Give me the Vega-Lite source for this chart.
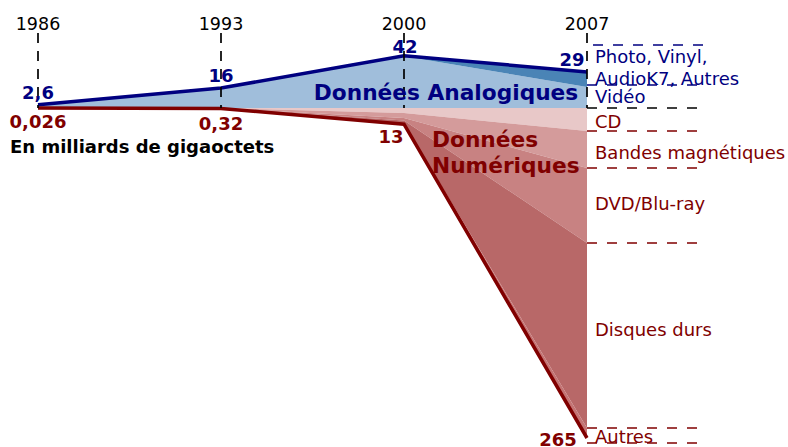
{
  "$schema": "https://vega.github.io/schema/vega-lite/v6.json",
  "width": 788,
  "height": 447,
  "autosize": "none",
  "padding": 0,
  "background": "white",
  "config": {"view": {"stroke": null}, "axis": {"disable": true}, "text": {"font": "DejaVu Sans"}},
  "datasets": {
    "areas": [
      {"year": 1986, "cat": "Vidéo", "v": 2.6, "ord": 1},
      {"year": 1993, "cat": "Vidéo", "v": 16, "ord": 1},
      {"year": 2000, "cat": "Vidéo", "v": 41.5, "ord": 1},
      {"year": 2007, "cat": "Vidéo", "v": 16.9, "ord": 1},
      {"year": 1986, "cat": "AudioK7", "v": 0, "ord": 2},
      {"year": 1993, "cat": "AudioK7", "v": 0, "ord": 2},
      {"year": 2000, "cat": "AudioK7", "v": 0.3, "ord": 2},
      {"year": 2007, "cat": "AudioK7", "v": 11.6, "ord": 2},
      {"year": 1986, "cat": "Photo", "v": 0, "ord": 3},
      {"year": 1993, "cat": "Photo", "v": 0, "ord": 3},
      {"year": 2000, "cat": "Photo", "v": 0.2, "ord": 3},
      {"year": 2007, "cat": "Photo", "v": 0.5, "ord": 3},
      {"year": 1986, "cat": "CD", "v": -0.01, "ord": 4},
      {"year": 1993, "cat": "CD", "v": -0.15, "ord": 4},
      {"year": 2000, "cat": "CD", "v": -4, "ord": 4},
      {"year": 2007, "cat": "CD", "v": -18.5, "ord": 4},
      {"year": 1986, "cat": "Bandes", "v": -0.01, "ord": 5},
      {"year": 1993, "cat": "Bandes", "v": -0.1, "ord": 5},
      {"year": 2000, "cat": "Bandes", "v": -4, "ord": 5},
      {"year": 2007, "cat": "Bandes", "v": -29.7, "ord": 5},
      {"year": 1986, "cat": "DVD", "v": -0.0001, "ord": 6},
      {"year": 1993, "cat": "DVD", "v": -0.0001, "ord": 6},
      {"year": 2000, "cat": "DVD", "v": -2, "ord": 6},
      {"year": 2007, "cat": "DVD", "v": -60.2, "ord": 6},
      {"year": 1986, "cat": "HD", "v": -0.006, "ord": 7},
      {"year": 1993, "cat": "HD", "v": -0.07, "ord": 7},
      {"year": 2000, "cat": "HD", "v": -2.5, "ord": 7},
      {"year": 2007, "cat": "HD", "v": -148.6, "ord": 7},
      {"year": 1986, "cat": "Autres", "v": -0.0001, "ord": 8},
      {"year": 1993, "cat": "Autres", "v": -0.0001, "ord": 8},
      {"year": 2000, "cat": "Autres", "v": -0.5, "ord": 8},
      {"year": 2007, "cat": "Autres", "v": -8, "ord": 8}
    ],
    "lines": [
      {"year": 1986, "series": "A", "v": 2.6},
      {"year": 1993, "series": "A", "v": 16},
      {"year": 2000, "series": "A", "v": 42},
      {"year": 2007, "series": "A", "v": 29},
      {"year": 1986, "series": "D", "v": -0.026},
      {"year": 1993, "series": "D", "v": -0.32},
      {"year": 2000, "series": "D", "v": -13},
      {"year": 2007, "series": "D", "v": -265}
    ],
    "vrules": [
      {"year": 1986, "v1": 60.2, "v2": 0},
      {"year": 1993, "v1": 60.2, "v2": 0},
      {"year": 2000, "v1": 60.2, "v2": 0},
      {"year": 2007, "v1": 60.2, "v2": 0}
    ],
    "hrules": [
      {"x1": 2007.23, "x2": 2011.55, "v": 50.6, "grp": "A"},
      {"x1": 2007.0, "x2": 2011.5, "v": 18.5, "grp": "A"},
      {"x1": 2007.0, "x2": 2011.5, "v": 0, "grp": "K"},
      {"x1": 2007.0, "x2": 2011.5, "v": -18.5, "grp": "D"},
      {"x1": 2007.0, "x2": 2011.5, "v": -48.2, "grp": "D"},
      {"x1": 2007.0, "x2": 2011.5, "v": -108.4, "grp": "D"},
      {"x1": 2007.0, "x2": 2011.5, "v": -257, "grp": "D"},
      {"x1": 2007.0, "x2": 2011.5, "v": -269, "grp": "D"}
    ],
    "labels": [
      {"kind": "year", "year": 1986, "v": 66.8, "text": "1986"},
      {"kind": "year", "year": 1993, "v": 66.8, "text": "1993"},
      {"kind": "year", "year": 2000, "v": 66.8, "text": "2000"},
      {"kind": "year", "year": 2007, "v": 66.8, "text": "2007"},
      {"kind": "numA", "year": 1986, "v": 11.5, "text": "2,6"},
      {"kind": "numA", "year": 1993, "v": 24.9, "text": "16"},
      {"kind": "numA", "year": 2000.04, "v": 48.2, "text": "42"},
      {"kind": "numA", "year": 2006.43, "v": 37.75, "text": "29"},
      {"kind": "numD", "year": 1986, "v": -12.05, "text": "0,026"},
      {"kind": "numD", "year": 1993, "v": -13.3, "text": "0,32"},
      {"kind": "numD", "year": 1999.5, "v": -24.1, "text": "13"},
      {"kind": "numD", "year": 2005.89, "v": -267.1, "text": "265"},
      {"kind": "unit", "year": 1984.929, "v": -32.1, "text": "En milliards de gigaoctets"},
      {"kind": "titleA", "year": 2001.607, "v": 12.4, "text": "Données Analogiques"},
      {"kind": "titleD", "year": 2001.071, "v": -25.9, "text": "Données"},
      {"kind": "titleD", "year": 2001.071, "v": -46.4, "text": "Numériques"},
      {"kind": "serA", "year": 2007.306, "v": 39.8, "text": "Photo, Vinyl,"},
      {"kind": "serA", "year": 2007.306, "v": 22.5, "text": "AudioK7, Autres"},
      {"kind": "serA", "year": 2007.306, "v": 8.0, "text": "Vidéo"},
      {"kind": "serD", "year": 2007.306, "v": -11.7, "text": "CD"},
      {"kind": "serD", "year": 2007.306, "v": -37.3, "text": "Bandes magnétiques"},
      {"kind": "serD", "year": 2007.306, "v": -77.9, "text": "DVD/Blu-ray"},
      {"kind": "serD", "year": 2007.306, "v": -179.1, "text": "Disques durs"},
      {"kind": "serD", "year": 2007.306, "v": -264.7, "text": "Autres"}
    ]
  },
  "layer": [
    {
      "data": {"name": "areas"},
      "mark": {"type": "area", "interpolate": "linear"},
      "encoding": {
        "x": {"field": "year", "type": "quantitative", "scale": {"domain": [1986, 2007], "range": [38, 587], "zero": false, "nice": false}},
        "y": {"field": "v", "type": "quantitative", "stack": "zero", "scale": {"domain": [-265, 0], "range": [438, 108], "zero": false, "nice": false}},
        "color": {"field": "cat", "type": "nominal", "legend": null,
          "scale": {"domain": ["Vidéo", "AudioK7", "Photo", "CD", "Bandes", "DVD", "HD", "Autres"],
                    "range": ["#a0bedb", "#4a84b6", "#2a5a96", "#e8c8c8", "#d49b9b", "#c88282", "#b86868", "#c47474"]}},
        "order": {"field": "ord", "type": "quantitative"}
      }
    },
    {
      "data": {"name": "lines"},
      "transform": [{"filter": "datum.series === 'A'"}],
      "mark": {"type": "line", "color": "#000080", "strokeWidth": 3.5, "strokeJoin": "miter"},
      "encoding": {
        "x": {"field": "year", "type": "quantitative"},
        "y": {"field": "v", "type": "quantitative"}
      }
    },
    {
      "data": {"name": "lines"},
      "transform": [{"filter": "datum.series === 'D'"}],
      "mark": {"type": "line", "color": "#800000", "strokeWidth": 3.5, "strokeJoin": "miter"},
      "encoding": {
        "x": {"field": "year", "type": "quantitative"},
        "y": {"field": "v", "type": "quantitative"}
      }
    },
    {
      "data": {"name": "vrules"},
      "mark": {"type": "rule", "color": "black", "strokeWidth": 1.7, "strokeDash": [10, 8]},
      "encoding": {
        "x": {"field": "year", "type": "quantitative"},
        "y": {"field": "v1", "type": "quantitative"},
        "y2": {"field": "v2"}
      }
    },
    {
      "data": {"name": "hrules"},
      "transform": [{"filter": "datum.grp === 'A'"}],
      "mark": {"type": "rule", "color": "#000080", "strokeWidth": 1.6, "strokeDash": [10, 10]},
      "encoding": {
        "x": {"field": "x1", "type": "quantitative"},
        "x2": {"field": "x2"},
        "y": {"field": "v", "type": "quantitative"}
      }
    },
    {
      "data": {"name": "hrules"},
      "transform": [{"filter": "datum.grp === 'K'"}],
      "mark": {"type": "rule", "color": "black", "strokeWidth": 1.6, "strokeDash": [10, 10]},
      "encoding": {
        "x": {"field": "x1", "type": "quantitative"},
        "x2": {"field": "x2"},
        "y": {"field": "v", "type": "quantitative"}
      }
    },
    {
      "data": {"name": "hrules"},
      "transform": [{"filter": "datum.grp === 'D'"}],
      "mark": {"type": "rule", "color": "#800000", "strokeWidth": 1.6, "strokeDash": [10, 10]},
      "encoding": {
        "x": {"field": "x1", "type": "quantitative"},
        "x2": {"field": "x2"},
        "y": {"field": "v", "type": "quantitative"}
      }
    },
    {
      "data": {"name": "labels"},
      "transform": [{"filter": "datum.kind === 'year'"}],
      "mark": {"type": "text", "fontSize": 17.5, "color": "black", "align": "center", "baseline": "middle"},
      "encoding": {"x": {"field": "year", "type": "quantitative"}, "y": {"field": "v", "type": "quantitative"}, "text": {"field": "text"}}
    },
    {
      "data": {"name": "labels"},
      "transform": [{"filter": "datum.kind === 'numA'"}],
      "mark": {"type": "text", "fontSize": 18, "fontWeight": "bold", "color": "#000080", "align": "center", "baseline": "middle"},
      "encoding": {"x": {"field": "year", "type": "quantitative"}, "y": {"field": "v", "type": "quantitative"}, "text": {"field": "text"}}
    },
    {
      "data": {"name": "labels"},
      "transform": [{"filter": "datum.kind === 'numD'"}],
      "mark": {"type": "text", "fontSize": 18, "fontWeight": "bold", "color": "#800000", "align": "center", "baseline": "middle"},
      "encoding": {"x": {"field": "year", "type": "quantitative"}, "y": {"field": "v", "type": "quantitative"}, "text": {"field": "text"}}
    },
    {
      "data": {"name": "labels"},
      "transform": [{"filter": "datum.kind === 'unit'"}],
      "mark": {"type": "text", "fontSize": 18, "fontWeight": "bold", "color": "black", "align": "left", "baseline": "middle"},
      "encoding": {"x": {"field": "year", "type": "quantitative"}, "y": {"field": "v", "type": "quantitative"}, "text": {"field": "text"}}
    },
    {
      "data": {"name": "labels"},
      "transform": [{"filter": "datum.kind === 'titleA'"}],
      "mark": {"type": "text", "fontSize": 21.7, "fontWeight": "bold", "color": "#000080", "align": "center", "baseline": "middle"},
      "encoding": {"x": {"field": "year", "type": "quantitative"}, "y": {"field": "v", "type": "quantitative"}, "text": {"field": "text"}}
    },
    {
      "data": {"name": "labels"},
      "transform": [{"filter": "datum.kind === 'titleD'"}],
      "mark": {"type": "text", "fontSize": 21.7, "fontWeight": "bold", "color": "#800000", "align": "left", "baseline": "middle"},
      "encoding": {"x": {"field": "year", "type": "quantitative"}, "y": {"field": "v", "type": "quantitative"}, "text": {"field": "text"}}
    },
    {
      "data": {"name": "labels"},
      "transform": [{"filter": "datum.kind === 'serA'"}],
      "mark": {"type": "text", "fontSize": 18, "color": "#000080", "align": "left", "baseline": "middle"},
      "encoding": {"x": {"field": "year", "type": "quantitative"}, "y": {"field": "v", "type": "quantitative"}, "text": {"field": "text"}}
    },
    {
      "data": {"name": "labels"},
      "transform": [{"filter": "datum.kind === 'serD'"}],
      "mark": {"type": "text", "fontSize": 18, "color": "#800000", "align": "left", "baseline": "middle"},
      "encoding": {"x": {"field": "year", "type": "quantitative"}, "y": {"field": "v", "type": "quantitative"}, "text": {"field": "text"}}
    }
  ]
}
